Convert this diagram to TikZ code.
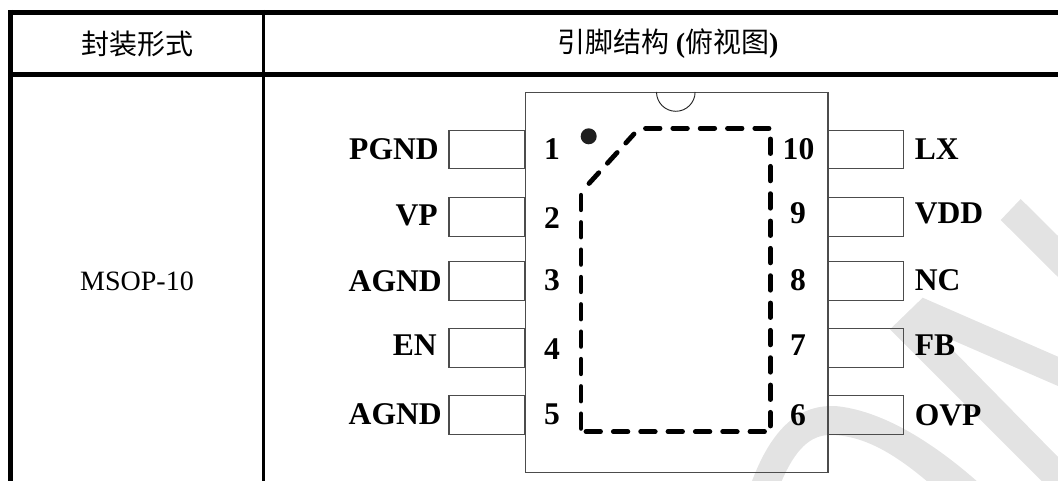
\documentclass[tikz,border=0pt]{standalone}
\usepackage{fontspec}
\setmainfont{Liberation Serif}
\newfontfamily\cjk{Noto Sans CJK SC}
\definecolor{wmgray}{HTML}{E3E3E3}
\tikzset{
    rule/.style={line width=3.75pt},
    midrule/.style={line width=2.6pt},
    pinbox/.style={draw=black!70,line width=.9pt,minimum width=56.7pt,minimum height=28.7pt,inner sep=0pt,anchor=west},
    chipbox/.style={draw=black!70,line width=1pt,minimum width=227pt,minimum height=284.8pt,inner sep=0pt,anchor=north west},
    pinname/.style={inner sep=0pt,font=\fontsize{23.7pt}{26pt}\selectfont\bfseries},
    headtext/.style={inner sep=0pt,font=\fontsize{21pt}{24pt}\selectfont},
    padline/.style={line width=3.6pt,line cap=round,dash pattern=on 10.9pt off 9.6pt}
}
\begin{document}
\begin{tikzpicture}[x=.75pt,y=-.75pt]
        \useasboundingbox (0,0) rectangle (1058,481);
        %Watermark
        \fill[wmgray] (1000.7,220)--(1020.7,199)--(1058,236)--(1058,277)--cycle;
        \fill[wmgray] (890,329.3)--(922.7,297.7)--(1058,356.7)--(1058,386)--(936,333)--(1058,457)--(1058,481)--(1041.7,481)--cycle;
        \fill[wmgray] (752,481) .. controls (775,420) and (805,405) .. (835,406)
        .. controls (880,410) and (930,440) .. (976.7,481)
        -- (926.7,481) .. controls (890,450) and (860,435) .. (830,435)
        .. controls (810,435) and (795,450) .. (781.7,481) -- cycle;
        %Table
        \coordinate (topleft) at (8,12.5);
        \coordinate (topright) at (1058,12.5);
        \coordinate (headleft) at (8,74.5);
        \coordinate (headright) at (1058,74.5);
        \coordinate (outertop) at (10.5,10);
        \coordinate (outerend) at (10.5,481);
        \coordinate (midtop) at (263.5,10);
        \coordinate (midend) at (263.5,481);
        \draw[rule] (topleft)--(topright);
        \draw[rule] (headleft)--(headright);
        \draw[rule] (outertop)--(outerend);
        \draw[midrule] (midtop)--(midend);
        \node[headtext] (headpack) at (137,44) {\cjk 封装形式};
        \node[headtext] (headpins) at (668,44) {\cjk 引脚结构 \rmfamily\bfseries (\cjk\mdseries 俯视图\rmfamily\bfseries )};
        \node[headtext,anchor=base] (package) at (137,290.7) {MSOP-10};
        %Chip
        \node[chipbox] (chip) at (524.6,92) {};
        \draw[black!85,line width=.7pt] (656.5,92) arc (180:0:19.3);
        \fill[black!88] (588.7,136.3) circle (8);
        %Left pins
        \node[pinbox] (pin1) at (448.3,149.5) {};
        \node[pinbox] (pin2) at (448.3,217) {};
        \node[pinbox] (pin3) at (448.3,281) {};
        \node[pinbox] (pin4) at (448.3,348) {};
        \node[pinbox] (pin5) at (448.3,415) {};
        %Right pins
        \node[pinbox] (pin10) at (827.3,149.5) {};
        \node[pinbox] (pin9) at (827.3,217) {};
        \node[pinbox] (pin8) at (827.3,281) {};
        \node[pinbox] (pin7) at (827.3,348) {};
        \node[pinbox] (pin6) at (827.3,415) {};
        %Left names
        \node[pinname,anchor=base east] (pgnd) at (439,160) {PGND};
        \node[pinname,anchor=base east] (vp) at (438,225.5) {VP};
        \node[pinname,anchor=base east] (agnda) at (442,291.4) {AGND};
        \node[pinname,anchor=base east] (en) at (437,356) {EN};
        \node[pinname,anchor=base east] (agndb) at (442,424) {AGND};
        %Right names
        \node[pinname,anchor=base west] (lx) at (914.5,159.5) {LX};
        \node[pinname,anchor=base west] (vdd) at (914.5,224) {VDD};
        \node[pinname,anchor=base west] (nc) at (914.5,291) {NC};
        \node[pinname,anchor=base west] (fb) at (914.5,356) {FB};
        \node[pinname,anchor=base west] (ovp) at (914.5,425) {OVP};
        %Pin numbers
        \node[pinname,anchor=base] (num1) at (552,160) {1};
        \node[pinname,anchor=base] (num2) at (552,229) {2};
        \node[pinname,anchor=base] (num3) at (552,291) {3};
        \node[pinname,anchor=base] (num4) at (552,359) {4};
        \node[pinname,anchor=base] (num5) at (552,424) {5};
        \node[pinname,anchor=base] (num10) at (798.5,159.5) {10};
        \node[pinname,anchor=base] (num9) at (798,224) {9};
        \node[pinname,anchor=base] (num8) at (798,291) {8};
        \node[pinname,anchor=base] (num7) at (798,355.6) {7};
        \node[pinname,anchor=base] (num6) at (798,426) {6};
        %Pad
        \coordinate (padtopa) at (645.5,128.3);
        \coordinate (padtopb) at (769,128.3);
        \coordinate (padrighta) at (770.3,139);
        \coordinate (padrightb) at (770.3,426);
        \coordinate (padbota) at (586,431.7);
        \coordinate (padbotb) at (765,431.7);
        \coordinate (padlefta) at (581,195.2);
        \coordinate (padleftb) at (581,428.5);
        \coordinate (paddiaga) at (589,183.5);
        \coordinate (paddiagb) at (634,134);
        \draw[padline] (padtopa)--(padtopb);
        \draw[padline] (padrighta)--(padrightb);
        \draw[padline] (padbota)--(padbotb);
        \draw[padline] (padlefta)--(padleftb);
        \draw[padline] (paddiaga)--(paddiagb);
    \end{tikzpicture}
\end{document}
